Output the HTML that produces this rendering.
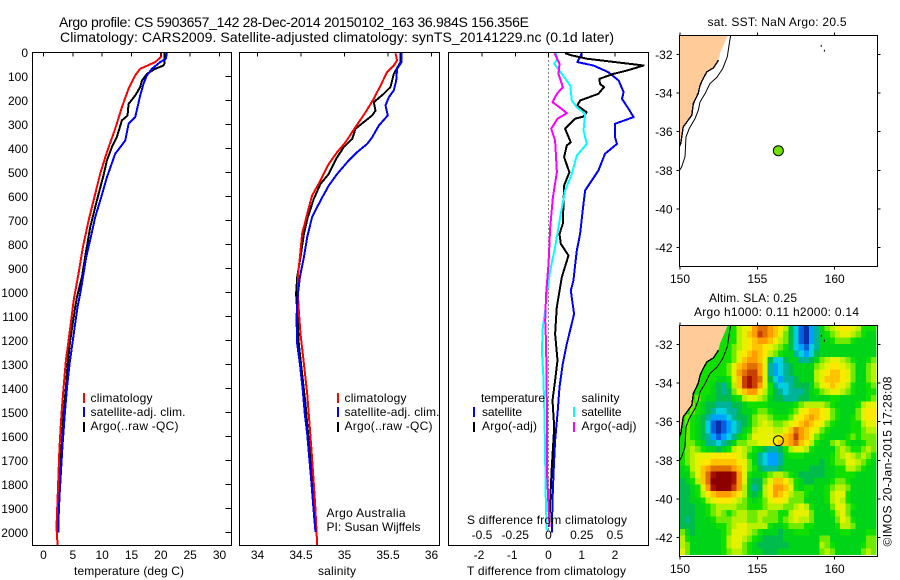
<!DOCTYPE html>
<html>
<head>
<meta charset="utf-8">
<title>Argo profile</title>
<style>
html,body{margin:0;padding:0;background:#fff;}
svg{display:block;}
text{font-family:"Liberation Sans",Arial,sans-serif;font-size:12px;fill:#000;}
.t14{font-size:14px;}
</style>
</head>
<body>
<svg id="fig" xmlns="http://www.w3.org/2000/svg" width="900" height="580" viewBox="0 0 900 580">
  <rect x="0" y="0" width="900" height="580" fill="#fff"/>
  <defs>
    <clipPath id="c1"><rect x="32.5" y="52.5" width="199" height="493"/></clipPath>
    <clipPath id="c2"><rect x="239.5" y="52.5" width="200" height="493"/></clipPath>
    <clipPath id="c3"><rect x="448.5" y="52.5" width="200" height="493"/></clipPath>
    <clipPath id="m1"><rect x="679.5" y="35.5" width="198" height="231"/></clipPath>
    <clipPath id="m2"><rect x="679.5" y="325.5" width="198" height="231"/></clipPath>
  </defs>

  <text class="t14" x="59" y="27" textLength="470" lengthAdjust="spacing">Argo profile: CS 5903657_142 28-Dec-2014 20150102_163 36.984S 156.356E</text>
  <text class="t14" x="60" y="42" textLength="554" lengthAdjust="spacing">Climatology: CARS2009. Satellite-adjusted climatology: synTS_20141229.nc (0.1d later)</text>

  <g id="p1"></g>
  <g id="p2"></g>
  <g id="p3"></g>
  <g id="map1"></g>
  <g id="map2"></g>

  <text x="74" y="575" textLength="110" lengthAdjust="spacing">temperature (deg C)</text>
  <text x="318" y="575" textLength="38" lengthAdjust="spacing">salinity</text>
  <text x="467" y="575" textLength="159" lengthAdjust="spacing">T difference from climatology</text>
  <text x="467" y="524" textLength="160" lengthAdjust="spacing">S difference from climatology</text>

  <g>
    <rect x="83" y="393" width="2" height="10" fill="#f00"/>
    <rect x="83" y="407" width="2" height="10" fill="#00f"/>
    <rect x="83" y="422" width="2" height="10" fill="#000"/>
    <text x="90.5" y="402" textLength="62" lengthAdjust="spacing">climatology</text>
    <text x="90.5" y="416" textLength="95" lengthAdjust="spacing">satellite-adj. clim.</text>
    <text x="90.5" y="430" textLength="88" lengthAdjust="spacing">Argo(..raw -QC)</text>
  </g>
  <g>
    <rect x="337" y="393" width="2" height="10" fill="#f00"/>
    <rect x="337" y="407" width="2" height="10" fill="#00f"/>
    <rect x="337" y="422" width="2" height="10" fill="#000"/>
    <text x="344.5" y="402" textLength="62" lengthAdjust="spacing">climatology</text>
    <text x="344.5" y="416" textLength="95" lengthAdjust="spacing">satellite-adj. clim.</text>
    <text x="344.5" y="430" textLength="88" lengthAdjust="spacing">Argo(..raw -QC)</text>
  </g>
  <text x="326.5" y="517" textLength="79" lengthAdjust="spacing">Argo Australia</text>
  <text x="326.5" y="531" textLength="94" lengthAdjust="spacing">PI: Susan Wijffels</text>
  <g>
    <text x="481" y="402" textLength="64" lengthAdjust="spacing">temperature</text>
    <rect x="473" y="407" width="2" height="10" fill="#00f"/>
    <rect x="473" y="422" width="2" height="10" fill="#000"/>
    <text x="482" y="416" textLength="40" lengthAdjust="spacing">satellite</text>
    <text x="482" y="430" textLength="55" lengthAdjust="spacing">Argo(-adj)</text>
    <text x="581.5" y="402" textLength="38" lengthAdjust="spacing">salinity</text>
    <rect x="573" y="407" width="2" height="10" fill="#0ff"/>
    <rect x="573" y="422" width="2" height="10" fill="#f0f"/>
    <text x="581.5" y="416" textLength="40" lengthAdjust="spacing">satellite</text>
    <text x="581.5" y="430" textLength="55" lengthAdjust="spacing">Argo(-adj)</text>
  </g>

  <text x="707.5" y="26" textLength="139" lengthAdjust="spacing">sat. SST: NaN  Argo: 20.5</text>
  <text x="709" y="302" textLength="88" lengthAdjust="spacing">Altim. SLA: 0.25</text>
  <text x="694" y="316" textLength="165" lengthAdjust="spacing">Argo h1000: 0.11 h2000: 0.14</text>
  <text transform="translate(891.5 546.5) rotate(-90)" x="0" y="0" textLength="170" lengthAdjust="spacing">©IMOS 20-Jan-2015 17:28:08</text>
</svg>

<script>
/* ---- chart data ---- */
const depthTicks = [0,100,200,300,400,500,600,700,800,900,1000,1100,1200,1300,1400,1500,1600,1700,1800,1900,2000];
const tempTicks = [0,5,10,15,20,25,30];
const salTicks = [34,34.5,35,35.5,36];
const salTickLabels = ['34','34.5','35','35.5','36'];
const tDiffTicks = [-2,-1,0,1,2];
const sDiffTicks = [-0.5,-0.25,0,0.25,0.5];
const sDiffTickLabels = ['-0.5','-0.25','0','0.25','0.5'];
const lonTicks = [150,155,160];
const latTicks = [-32,-34,-36,-38,-40,-42];

const climTempDepth = [0,19,40,68,96,151,228,318,415,505,589,700,811,922,1019,1061,1200,1283,1394,1506,1644,1756,1867,1978,2056];
const climTemp = [20.06,20.0,19.04,16.48,15.63,14.5,13.36,12.22,10.8,9.67,8.81,7.68,6.71,5.97,5.23,5.0,4.27,3.81,3.42,3.07,2.73,2.56,2.39,2.22,2.4];
const satTempDepth = [0,26,40,68,96,130,179,228,269,297,367,422,520,603,686,769,853,964,1019,1061,1200,1300,1400,1500,1650,1750,1850,1950,2000];
const satTemp = [21.03,20.86,19.89,18.47,17.62,17.05,16.48,16.03,15.63,14.5,13.93,12.22,10.8,9.84,8.81,8.07,7.28,6.54,6.14,5.8,5.0,4.44,3.98,3.64,3.2,2.96,2.73,2.56,2.56];
const argoTempDepth = [0,46,54,68,89,117,144,179,214,263,283,353,394,450,512,575,644,728,825,936,1019,1061,1200,1300,1400,1500,1650,1750,1850,1950,2000];
const argoTemp = [20.63,20.63,20.46,19.04,17.62,16.77,16.48,15.63,14.5,14.32,13.36,12.5,11.65,10.8,10.23,9.55,8.81,7.96,7.28,6.54,5.69,5.4,4.55,4.1,3.8,3.42,3.07,2.73,2.56,2.39,2.45];

const climSalDepth = [3,33,54,82,138,193,249,311,374,415,464,533,596,672,756,853,922,1006,1075,1172,1297,1422,1547,1658,1797,1908,2056];
const climSal = [35.586,35.605,35.567,35.49,35.414,35.337,35.241,35.126,35.011,34.916,34.82,34.724,34.628,34.571,34.513,34.487,34.467,34.464,34.475,34.494,34.533,34.571,34.598,34.621,34.647,34.667,34.686];
const argoSalDepth = [3,40,89,144,172,207,242,262,290,318,360,394,436,506,547,610,686,756,853,936,1006,1075,1214,1339,1464,1589,1700,1825,1936,1992];
const argoSal = [35.644,35.644,35.567,35.529,35.452,35.337,35.356,35.318,35.222,35.126,35.088,34.992,34.916,34.82,34.724,34.647,34.578,34.533,34.494,34.456,34.444,34.456,34.475,34.513,34.552,34.582,34.609,34.636,34.667,34.678];
const satSalDepth = [3,40,68,117,158,186,221,262,304,353,381,415,457,506,554,617,686,769,853,936,1006,1103,1214,1297,1408,1506,1589,1700,1797,1922,1998];
const satSal = [35.655,35.655,35.605,35.594,35.567,35.51,35.471,35.498,35.395,35.318,35.261,35.146,35.031,34.916,34.82,34.724,34.628,34.571,34.533,34.487,34.464,34.448,34.456,34.487,34.521,34.544,34.571,34.598,34.621,34.648,34.667];

const tSatDiffDepth = [3,12,40,54,82,117,165,193,235,269,297,353,381,422,492,575,658,756,825,950,992,1089,1158,1214,1297,1394,1506,1617,1756,1867,2000];
const tSatDiff = [1.0,0.97,0.87,1.35,1.8,2.11,2.26,2.21,2.41,2.56,2.0,2.0,2.06,1.7,1.5,1.1,1.03,0.95,0.85,0.75,0.67,0.77,0.65,0.55,0.43,0.33,0.27,0.2,0.15,0.12,0.1];
const tArgoDiffDepth = [3,12,26,54,75,89,110,131,144,172,200,221,249,267,276,318,374,387,436,499,554,714,756,797,846,936,1061,1172,1283,1367,1450,1561,1728,1867,1978];
const tArgoDiff = [0.5,0.7,1.15,2.86,2.36,1.95,1.53,1.55,1.67,1.5,0.95,0.87,1.15,1.05,0.8,0.5,0.67,0.55,0.47,0.63,0.47,0.43,0.33,0.37,0.6,0.4,0.25,0.2,0.27,0.2,0.12,0.17,0.1,0.05,0.02];
const sSatDiffDepth = [3,26,47,89,138,200,228,256,325,381,429,506,575,686,811,908,1006,1075,1144,1242,1353,1519,1867,1992];
const sSatDiff = [0.055,0.068,0.043,0.1,0.163,0.175,0.213,0.276,0.263,0.288,0.213,0.175,0.125,0.088,0.05,0.013,-0.013,-0.025,-0.043,-0.05,-0.038,-0.03,-0.02,-0.013];
const sArgoDiffDepth = [3,47,89,144,172,207,231,253,276,318,367,499,603,728,881,1006,1117,1214,1450,1728,1894,1978];
const sArgoDiff = [0.045,0.083,0.075,0.108,0.063,0.03,0.088,0.138,0.068,0.02,0.05,0.063,0.033,0.013,0,-0.018,-0.025,-0.018,-0.013,-0.013,0,0.008];

const coastLon = [153.08,152.91,152.59,152.48,152.15,151.73,151.5,151.29,151.18,150.86,150.76,150.21,150.05,149.95];
const coastLat = [-31.0,-31.35,-31.93,-32.3,-32.7,-32.9,-33.25,-33.6,-34.0,-34.55,-35.15,-35.75,-36.6,-36.8];
const isobathLon = [153.28,153.19,153.06,152.76,152.37,151.94,151.62,151.29,151.18,150.97,150.6,150.39,150.32,150.11,149.95];
const isobathLat = [-31,-31.43,-32.12,-32.73,-33.19,-33.5,-34.02,-34.46,-34.89,-35.32,-35.83,-36.27,-37.3,-37.82,-38.03];
const islandLon = [159.1,159.3];
const islandLat = [-31.5,-31.75];
const argoLon = 156.356;
const argoLat = -36.984;

/* SLA grid, one letter per cell (a = lowest ... r = highest), north to south */
const slaLevels = 'abcdefghijklmnopqr';
const slaRows = [
'hhhhhhhhhh hjklnoonmlj fdbac egijkllkjhhh',
'hhhhhhhhhh hjkmnponmki fdbac eghijkkjihgg',
'hhhhhhhhhh hjklmnnmlji fdbac egghiiihgggg',
'hhhhhhhhh hijklmmlkjih fdcbd eggggggggggg',
'hhhhhhhhh hiklmnmljihg gedcd fggggggggggg',
'hhhhhhhh hhikmnnmkfddf ggeef gijkkjihgghi',
'hhhhhhh hhikmnoonkecdef gggg ijkllkjiggij',
'hhhhhh hhhiknoppnkecdef gggg jklmmlkiggij',
'hhhhhh hgghkmpqpokfdcee fggg jkmmmlkiggij',
'hhhhh hgfegjmpqpnkhedde fffg iklmlkjhgghi',
'hhhh hhgfefikmnnljhfede eefg hijkkjihgghh',
'hhh ihggfffghjkkjigffee effg ggghhggggghij',
'hh ihgffeeeffghhhhggggg hijj jjihgggghjkk',
'hh ihgfeddeefgghiihgggh iklm mlkihgggikll',
'h ihgfecccdeffgijjihhhi klmn mlkihgghikll',
'h ihgfdbabcdefgijkjiijk lmnm lkihggghhjkk',
'h ihgfdbabcdeghjkkkjjkm onml kihgggghhijj',
'h ihgfecbcdeghikkkkklmn pnmk ihgggghihiii',
'h iihgeedefgiijjkkllmmn omlj hggijihgghii',
'h ijihggfghjkjihgfeefhj kkjh ggggijihhiji',
'h ijkkklllllkjhgedccegh hhgg ggghijkjijih',
'h ijkllmmmmmlkigedccegg gggg gfghiikkjihg',
'g hjkmnoooonmkihfeeefgg gggf ffgghhjjihgg',
'g gikmoqrrrqnkhgghijjih gfff ffgghhhhgggg',
'f ghjmorrrrqnkgffikmmlj hgff ggghiihggggg',
'f fghknqrrrpnjgefjlnnmk hghh gghijjiggggg',
'f fghjlmnnnmljgfgjlnmlj iihg gghjkkhggggg',
'f fgghjklllkjihghikllki iigg gghjkjhggggg',
'f ffgghijjjjiihhhijjjii jkjh gggikkihgggg',
'f ffgghijihijjiijjiihhj kkki ggghjkiggggg',
'f efggghiiijjjiijiiihij kjji ggggikjhgggg',
'f ffgggghhijkkjjjjhgghi iihh gggghjjigggg',
'i gfggggghikkkjihgggfgg hhhg ggggghhggghh',
'j hgggggghjkkjihgffffgg gggg giiggggggg ii',
'j igggggghjkkihgffffffg gggg gjihgggggh ii',
'k igggggghijjihggfffggg gggg gijigggggiji'
];
const slaColors = ['#0a2ea8','#0060e0','#00a0ff','#00d0e0','#00b49a','#00bc4c','#00d418','#10e000','#70ea00','#b8f000','#e4f200','#ffe800','#ffc400','#ff9c00','#e07000','#c84000','#a81000','#8c0000'];

/* ---- axes ---- */
const depthY = d => 52.5 + 0.24 * d;
const tempX = t => 43.5 + 5.867 * t;
const salX = s => 257.5 + 87 * (s - 34);
const tDiffX = t => 548.5 + 33.25 * t;
const sDiffX = s => 548.5 + 133 * s;
const lonX = lon => 680 + 15.47 * (lon - 150);
const latY1 = lat => 54.5 - 19.3 * (lat + 32);
const latY2 = lat => 344.5 - 19.3 * (lat + 32);

const NS = 'http://www.w3.org/2000/svg';
function node(tag, attrs, parent) {
  const e = document.createElementNS(NS, tag);
  for (const k in attrs) e.setAttribute(k, attrs[k]);
  parent.appendChild(e);
  return e;
}
function pts(xs, ys) { return xs.map((x, i) => x.toFixed(1) + ',' + ys[i].toFixed(1)).join(' '); }

function curve(parent, clip, depth, vals, xf, color, w) {
  const el = node('polyline', {
    points: pts(vals.map(xf), depth.map(depthY)),
    fill: 'none', stroke: color, 'stroke-width': w, 'clip-path': 'url(#' + clip + ')',
    'shape-rendering': 'crispEdges', 'stroke-linejoin': 'round'
  }, parent);
  return el;
}
function frame(parent, x, y, w, h) {
  const el = node('rect', {x: x, y: y, width: w, height: h, fill: 'none', stroke: '#000', 'stroke-width': 1, 'shape-rendering': 'crispEdges'}, parent);
  
  
}
function tick(parent, x1, y1, x2, y2) {
  const el = node('line', {x1: x1, y1: y1, x2: x2, y2: y2, stroke: '#000', 'stroke-width': 1, 'shape-rendering': 'crispEdges'}, parent);
  
  
}
function label(parent, str, x, y, anchor) {
  const el = node('text', {x: x, y: y, 'text-anchor': anchor}, parent);
  el.textContent = str;
  
  
}

/* ---- temperature panel ---- */
const p1 = document.getElementById('p1');
const tempArgoLine = curve(p1, 'c1', argoTempDepth, argoTemp, tempX, '#000', 2);


const tempClimLine = curve(p1, 'c1', climTempDepth, climTemp, tempX, '#f00', 2);


const tempSatLine = curve(p1, 'c1', satTempDepth, satTemp, tempX, '#00f', 2);


frame(p1, 32.5, 52.5, 199, 493);
depthTicks.forEach(d => {
  tick(p1, 231.5, depthY(d), 225.5, depthY(d));
  label(p1, String(d), 28, depthY(d) + 4.5, 'end');
});
tempTicks.forEach(t => {
  tick(p1, tempX(t), 52.5, tempX(t), 56.5);
  label(p1, String(t), tempX(t), 559, 'middle');
});

/* ---- salinity panel ---- */
const p2 = document.getElementById('p2');
const salArgoLine = curve(p2, 'c2', argoSalDepth, argoSal, salX, '#000', 2);


const salClimLine = curve(p2, 'c2', climSalDepth, climSal, salX, '#f00', 2);


const salSatLine = curve(p2, 'c2', satSalDepth, satSal, salX, '#00f', 2);


frame(p2, 239.5, 52.5, 200, 493);
salTicks.forEach((s, i) => {
  tick(p2, salX(s), 52.5, salX(s), 56.5);
  label(p2, salTickLabels[i], salX(s), 559, 'middle');
});

/* ---- difference panel ---- */
const p3 = document.getElementById('p3');
const zeroLine = node('line', {x1: tDiffX(0), y1: depthY(0), x2: tDiffX(0), y2: depthY(2000), stroke: '#000', 'stroke-width': 1, 'stroke-dasharray': '1 3', 'shape-rendering': 'crispEdges'}, p3);


const tSatLine = curve(p3, 'c3', tSatDiffDepth, tSatDiff, tDiffX, '#00f', 2);


const tArgoLine = curve(p3, 'c3', tArgoDiffDepth, tArgoDiff, tDiffX, '#000', 2);


const sSatLine = curve(p3, 'c3', sSatDiffDepth, sSatDiff, sDiffX, '#0ff', 2);


const sArgoLine = curve(p3, 'c3', sArgoDiffDepth, sArgoDiff, sDiffX, '#f0f', 2);


frame(p3, 448.5, 52.5, 200, 493);
tDiffTicks.forEach(t => {
  tick(p3, tDiffX(t), 52.5, tDiffX(t), 56.5);
  label(p3, String(t), tDiffX(t) + (t < 0 ? -3 : 0), 559, 'middle');
});
sDiffTicks.forEach((s, i) => {
  label(p3, sDiffTickLabels[i], sDiffX(s), 539, 'middle');
});

/* ---- maps ---- */
function drawMapBase(g, latY, clip) {
  const clipG = node('g', {'clip-path': 'url(#' + clip + ')'}, g);
  return clipG;
}
function drawLand(parent, latY) {
  const cx = coastLon.map(lonX).concat([lonX(149.9), lonX(149.9)]);
  const cy = coastLat.map(latY).concat([latY(-36.8), latY(-31)]);
  const land = node('polygon', {points: pts(cx, cy), fill: '#ffcc99', stroke: 'none'}, parent);
  
  
  const shore = node('polyline', {
    points: pts(coastLon.slice(3).map(lonX), coastLat.slice(3).map(latY)),
    fill: 'none', stroke: '#000', 'stroke-width': 1.4, 'shape-rendering': 'crispEdges'
  }, parent);
  
  
  const iso = node('polyline', {
    points: pts(isobathLon.map(lonX), isobathLat.map(latY)),
    fill: 'none', stroke: '#000', 'stroke-width': 1
  }, parent);
  
  
  islandLon.forEach((lon, i) => {
    const isl = node('rect', {x: lonX(lon), y: latY(islandLat[i]), width: 1, height: 2, fill: '#000'}, parent);
    
    
  });
}
function drawMapAxes(g, latY, top, bottom, labelY) {
  frame(g, 679.5, top, 198, bottom - top);
  lonTicks.forEach(lon => {
    tick(g, lonX(lon), top, lonX(lon), top - 3);
    tick(g, lonX(lon), bottom, lonX(lon), bottom + 3);
    label(g, String(lon), lonX(lon), labelY, 'middle');
  });
  latTicks.forEach(lat => {
    tick(g, 679.5, latY(lat), 676.5, latY(lat));
    tick(g, 877.5, latY(lat), 880.5, latY(lat));
    label(g, String(lat), 672.5, latY(lat) + 4.5, 'end');
  });
}

const map1 = document.getElementById('map1');
const map1Clip = drawMapBase(map1, latY1, 'm1');
drawLand(map1Clip, latY1);
const sstMarker = node('circle', {cx: lonX(argoLon), cy: latY1(argoLat), r: 5, fill: '#70e000', stroke: '#000', 'stroke-width': 1}, map1Clip);


drawMapAxes(map1, latY1, 35.5, 266.5, 283);

const map2 = document.getElementById('map2');
const map2Clip = drawMapBase(map2, latY2, 'm2');
const cellLon = 0.3345;
const cellLat = 0.331;
slaRows.forEach((rawRow, r) => {
  const row = rawRow.replace(/ /g, '');
  for (let c = 0; c < row.length && c < 38; c++) {
    const x0 = lonX(149.98 + c * cellLon), x1 = lonX(149.98 + (c + 1) * cellLon);
    const y0 = latY2(-30.98 - r * cellLat), y1 = latY2(-30.98 - (r + 1) * cellLat);
    const cell = node('rect', {x: x0.toFixed(2), y: y0.toFixed(2), width: (x1 - x0 + 0.3).toFixed(2), height: (y1 - y0 + 0.3).toFixed(2), fill: slaColors[slaLevels.indexOf(row[c])] || '#00d418', 'shape-rendering': 'crispEdges'}, map2Clip);
    
    
  }
});
drawLand(map2Clip, latY2);
const slaMarker = node('circle', {cx: lonX(argoLon), cy: latY2(argoLat), r: 5, fill: 'none', stroke: '#000', 'stroke-width': 1}, map2Clip);


drawMapAxes(map2, latY2, 325.5, 556.5, 573);
</script>
</body>
</html>
